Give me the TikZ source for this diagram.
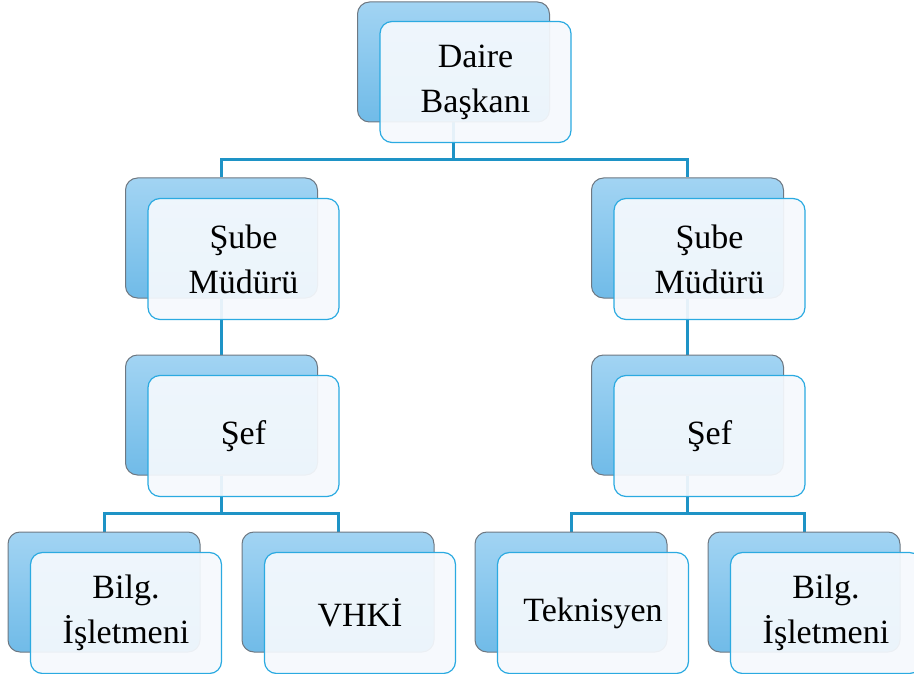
\documentclass[tikz,border=0pt]{standalone}
\usepackage{fontspec}
\setmainfont{Liberation Serif}
\usetikzlibrary{positioning,calc,backgrounds}
\usepackage{xcolor}
\definecolor{backtop}{HTML}{A2D4F3}
\definecolor{backbot}{HTML}{70BBE8}
\definecolor{backline}{HTML}{6E7882}
\definecolor{frontfill}{HTML}{F5F9FD}
\definecolor{frontline}{HTML}{2BAAE1}
\definecolor{linkcol}{HTML}{1E93C6}

\begin{document}
\begin{tikzpicture}[x=1pt, y=-1pt,
    back/.style={draw=backline, line width=1pt, rounded corners=12pt,
        top color=backtop, bottom color=backbot,
        minimum width=192pt, minimum height=120pt, inner sep=0pt},
    front/.style={draw=frontline, line width=1.2pt, rounded corners=12pt,
        fill=frontfill, fill opacity=0.93, text opacity=1,
        minimum width=191pt, minimum height=121pt, inner sep=0pt,
        align=center, font=\fontsize{34}{45}\selectfont},
    link/.style={draw=linkcol, line width=3pt}]
    \useasboundingbox (0,0) rectangle (914,674);
    % Back boxes
    \node[back] (daire) at (453.5,62) {};
    \node[back] (sube1) at (221.5,238) {};
    \node[back] (sube2) at (687.5,238) {};
    \node[back] (sef1) at (221.5,415) {};
    \node[back] (sef2) at (687.5,415) {};
    \node[back] (bilg1) at (104,592) {};
    \node[back] (vhki) at (338,592) {};
    \node[back] (tekn) at (571,592) {};
    \node[back] (bilg2) at (804,592) {};
    % Front boxes with the texts
    \node[front] (daireF) at (475.5,82) {Daire\\Başkanı};
    \node[front] (sube1F) at (243.5,259) {Şube\\Müdürü};
    \node[front] (sube2F) at (709.5,259) {Şube\\Müdürü};
    \node[front] (sef1F) at (243.5,436) {Şef};
    \node[front] (sef2F) at (709.5,436) {Şef};
    \node[front] (bilg1F) at (126,613) {Bilg.\\İşletmeni};
    \node[front] (vhkiF) at (360,613) {VHKİ};
    \node[front] (teknF) at (593,613) {Teknisyen};
    \node[front] (bilg2F) at (826,613) {Bilg.\\İşletmeni};
    % Connectors behind the boxes
    \begin{scope}[on background layer]
        \foreach \a/\b in {daire/sube1, daire/sube2} {
            \draw[link] (\a.south) -- ++(0,37) -| (\b.north);
        }
        \foreach \a/\b in {sube1/sef1, sube2/sef2} {
            \draw[link] (\a.south) -- (\b.north);
        }
        \foreach \a/\b in {sef1/bilg1, sef1/vhki, sef2/tekn, sef2/bilg2} {
            \draw[link] (\a.south) -- ++(0,38) -| (\b.north);
        }
    \end{scope}
\end{tikzpicture}
\end{document}
